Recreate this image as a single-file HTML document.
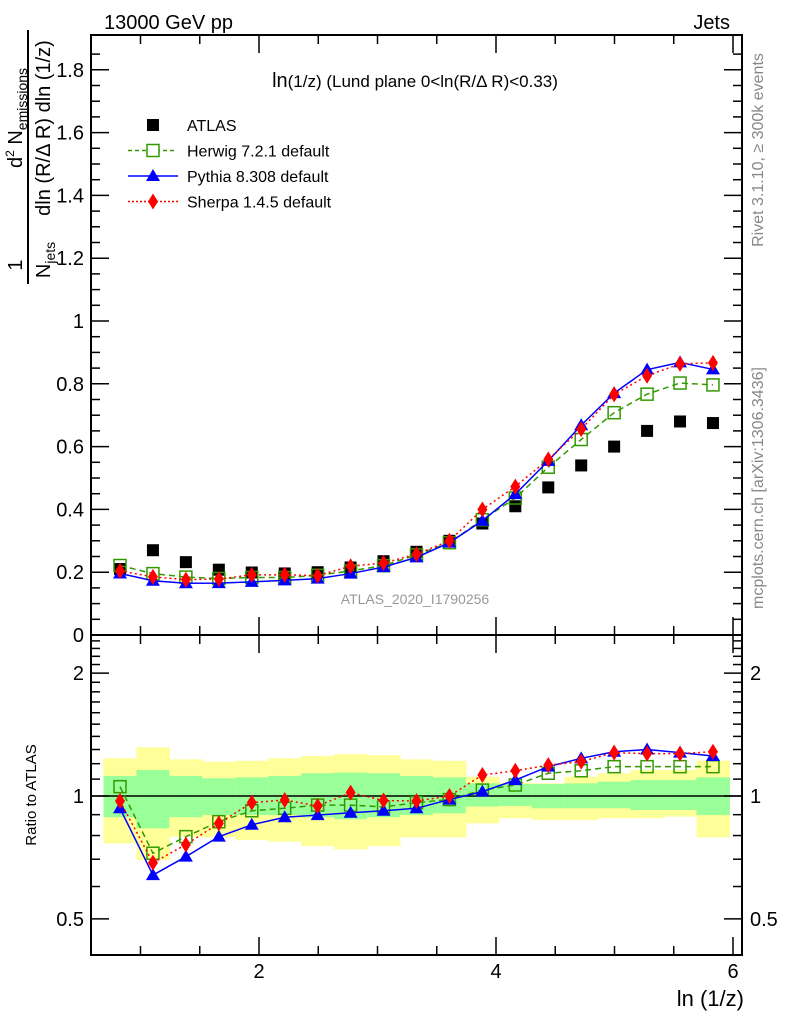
<!DOCTYPE html>
<html><head><meta charset="utf-8"><style>
body{margin:0;background:#fff}
svg{display:block;font-family:"Liberation Sans",sans-serif}
</style></head><body>
<svg id="c" width="786" height="1024" xmlns="http://www.w3.org/2000/svg"></svg>
<script>
const xVals=[0.827,1.105,1.383,1.661,1.939,2.217,2.495,2.773,3.051,3.329,3.607,3.885,4.163,4.441,4.719,4.997,5.275,5.553,5.831];
const atlas=[0.21,0.27,0.232,0.208,0.199,0.196,0.2,0.215,0.235,0.265,0.3,0.355,0.41,0.47,0.54,0.6,0.65,0.68,0.675];
const herwigRatio=[1.054,0.724,0.795,0.865,0.92,0.933,0.95,0.95,0.94,0.963,0.98,1.034,1.064,1.137,1.153,1.18,1.18,1.18,1.18];
const pythiaRatio=[0.933,0.64,0.71,0.795,0.85,0.887,0.898,0.91,0.92,0.933,0.98,1.025,1.094,1.18,1.237,1.284,1.30,1.277,1.253];
const sherpaRatio=[0.972,0.686,0.76,0.857,0.963,0.978,0.945,1.019,0.975,0.972,1.0,1.126,1.153,1.19,1.214,1.277,1.27,1.27,1.284];
const yellowHi=[1.237,1.316,1.23,1.214,1.22,1.237,1.253,1.267,1.26,1.23,1.22,1.115,1.078,1.074,1.115,1.137,1.158,1.158,1.22];
const yellowLo=[0.765,0.697,0.795,0.792,0.78,0.773,0.754,0.74,0.754,0.792,0.792,0.857,0.882,0.873,0.873,0.882,0.882,0.89,0.792];
const greenHi=[1.12,1.158,1.12,1.105,1.111,1.12,1.137,1.141,1.137,1.12,1.111,1.074,1.07,1.07,1.074,1.084,1.094,1.094,1.111];
const greenLo=[0.887,0.833,0.887,0.898,0.898,0.898,0.887,0.877,0.887,0.898,0.907,0.942,0.945,0.933,0.933,0.933,0.924,0.924,0.898];
const mainTicks=["0","0.2","0.4","0.6","0.8","1","1.2","1.4","1.6","1.8"];
const ratioTicks=["0.5","1","2"];
const xTicks=["2","4","6"];

const svg=document.getElementById('c');
const NS='http://www.w3.org/2000/svg';
function el(t,a,p){const e=document.createElementNS(NS,t);for(const k in a)e.setAttribute(k,a[k]);(p||svg).appendChild(e);return e;}
const L=91,R=742,T=35,MB=635,RB=955;
const sx=v=>22+118.5*v;
const sy=v=>MB-314*v;
const ry=v=>796-408*Math.log10(v);
const half=16.5;
const herwig=herwigRatio.map((r,i)=>r*atlas[i]);
const pythia=pythiaRatio.map((r,i)=>r*atlas[i]);
const sherpa=sherpaRatio.map((r,i)=>r*atlas[i]);

const bands=el('g',{});


xVals.forEach((x,i)=>{
  const a=el('rect',{x:sx(x)-half,y:ry(yellowHi[i]),width:2*half+0.5,height:ry(yellowLo[i])-ry(yellowHi[i]),fill:'#ffff99'},bands);
  
  
  const b=el('rect',{x:sx(x)-half,y:ry(greenHi[i]),width:2*half+0.5,height:ry(greenLo[i])-ry(greenHi[i]),fill:'#99ff99'},bands);
  
  
});
el('line',{x1:L,x2:R,y1:ry(1),y2:ry(1),stroke:'#000','stroke-width':1.5});

el('rect',{x:L,y:T,width:R-L,height:MB-T,fill:'none',stroke:'#000','stroke-width':2});
el('rect',{x:L,y:MB,width:R-L,height:RB-MB,fill:'none',stroke:'#000','stroke-width':2});

for(let v=1;v<=6.01;v+=0.5){
  const X=sx(v),maj=Math.abs(v-Math.round(v/2)*2)<0.01;
  const len=maj?18:9;
  [[T,1],[MB,-1],[MB,1],[RB,-1]].forEach(([y0,d])=>el('line',{x1:X,x2:X,y1:y0,y2:y0+d*len,stroke:'#000','stroke-width':1.5}));
}
xTicks.forEach(t=>{const e=el('text',{x:sx(+t),y:978,'font-size':20,'text-anchor':'middle'});e.textContent=t;
});
for(let i=0;i<=37;i++){const v=i*0.05,Y=sy(v);if(Y<T)break;const len=i%4==0?18:9;
 el('line',{x1:L,x2:L+len,y1:Y,y2:Y,stroke:'#000','stroke-width':1.5});
 el('line',{x1:R,x2:R-len,y1:Y,y2:Y,stroke:'#000','stroke-width':1.5});}
mainTicks.forEach(t=>{const e=el('text',{x:84,y:sy(+t)+7,'font-size':20,'text-anchor':'end'});e.textContent=t;
});
for(let i=5;i<=24;i++){const v=i/10,Y=ry(v);if(Y<MB)break;const len=(i==5||i==10||i==20)?18:9;
 el('line',{x1:L,x2:L+len,y1:Y,y2:Y,stroke:'#000','stroke-width':1.5});
 el('line',{x1:R,x2:R-len,y1:Y,y2:Y,stroke:'#000','stroke-width':1.5});}
ratioTicks.forEach(t=>{[[84,'end'],[750,'start']].forEach(([x,a])=>{const e=el('text',{x:x,y:ry(+t)+7,'font-size':20,'text-anchor':a});e.textContent=t;
});});

function square(g,x,y,fill,stroke){return el('rect',{x:x-6,y:y-6,width:12,height:12,fill:fill,stroke:stroke,'stroke-width':stroke=='none'?0:1.5},g);}
function tri(g,x,y){return el('polygon',{points:`${x},${y-7} ${x-7},${y+5} ${x+7},${y+5}`,fill:'#0000ff'},g);}
function dia(g,x,y){return el('polygon',{points:`${x},${y-8} ${x-5},${y} ${x},${y+8} ${x+5},${y}`,fill:'#ff0000'},g);}
function series(name,vals,ys,color,dash,mk){
  const g=el('g',{});
  
  
  el('polyline',{points:xVals.map((x,i)=>sx(x)+','+ys(vals[i])).join(' '),fill:'none',stroke:color,'stroke-width':1.5,'stroke-dasharray':dash},g);
  xVals.forEach((x,i)=>mk(g,sx(x),ys(vals[i])));
}
const atl=el('g',{});


xVals.forEach((x,i)=>square(atl,sx(x),sy(atlas[i]),'#000','none'));
series('herwig-main',herwig,sy,'#339900','6,4',(g,x,y)=>square(g,x,y,'none','#339900'));
series('pythia-main',pythia,sy,'#0000ff','none',tri);
series('sherpa-main',sherpa,sy,'#ff0000','2,3',dia);
series('herwig-ratio',herwigRatio,ry,'#339900','6,4',(g,x,y)=>square(g,x,y,'none','#339900'));
series('pythia-ratio',pythiaRatio,ry,'#0000ff','none',tri);
series('sherpa-ratio',sherpaRatio,ry,'#ff0000','2,3',dia);

const lg=el('g',{});


const leg=[['ATLAS',null],['Herwig 7.2.1 default','h'],['Pythia 8.308 default','p'],['Sherpa 1.4.5 default','s']];
leg.forEach(([t,k],i)=>{const y=125+i*25.5;
 if(k==null)square(lg,153,y,'#000','none');
 if(k=='h'){el('line',{x1:128,x2:176,y1:y,y2:y,stroke:'#339900','stroke-width':1.5,'stroke-dasharray':'4,3'},lg);square(lg,153,y,'#fff','#339900');}
 if(k=='p'){el('line',{x1:128,x2:178,y1:y,y2:y,stroke:'#0000ff','stroke-width':1.5},lg);tri(lg,153,y);}
 if(k=='s'){el('line',{x1:128,x2:178,y1:y,y2:y,stroke:'#ff0000','stroke-width':1.5,'stroke-dasharray':'2,2'},lg);dia(lg,153,y);}
 const e=el('text',{x:187,y:y+6,'font-size':16},lg);e.textContent=t;
 });

function txt(s,a,name){const e=el('text',a);e.textContent=s;return e;}
txt('13000 GeV pp',{x:104,y:29,'font-size':20},'energy-label');
txt('Jets',{x:730,y:29,'font-size':20,'text-anchor':'end'},'process-label');
const tt=txt('',{x:415,y:87,'font-size':17,'text-anchor':'middle'},'plot-title');
tt.innerHTML='<tspan font-size="20">ln</tspan>(1/z) (Lund plane 0&lt;ln(R/Δ R)&lt;0.33)';
txt('ATLAS_2020_I1790256',{x:415,y:604,'font-size':14,fill:'#999','text-anchor':'middle'},'analysis-id');
txt('Rivet 3.1.10, ≥ 300k events',{x:0,y:0,'font-size':16,fill:'#888','text-anchor':'middle',transform:'translate(763,150) rotate(-90)'},'rivet-label');
txt('mcplots.cern.ch [arXiv:1306.3436]',{x:0,y:0,'font-size':16,fill:'#888','text-anchor':'middle',transform:'translate(763,488) rotate(-90)'},'mcplots-label');
txt('ln (1/z)',{x:744,y:1006,'font-size':22,'text-anchor':'end'},'x-axis-title');
txt('Ratio to ATLAS',{x:0,y:0,'font-size':15,'text-anchor':'middle',transform:'translate(36,795) rotate(-90)'},'ratio-y-axis-title');
const yt=el('g',{});


el('line',{x1:28,x2:28,y1:30,y2:284,stroke:'#000','stroke-width':2},yt);
const n1=el('text',{x:0,y:0,'font-size':20,'text-anchor':'middle',transform:'translate(22,265) rotate(-90)'},yt);n1.textContent='1';
const n2=el('text',{x:0,y:0,'font-size':20,'text-anchor':'middle',transform:'translate(22,118) rotate(-90)'},yt);
n2.innerHTML='d<tspan font-size="12" dy="-8">2</tspan><tspan dy="8"> N</tspan><tspan font-size="14" dy="5">emissions</tspan>';
const d1=el('text',{x:0,y:0,'font-size':20,'text-anchor':'middle',transform:'translate(50,260) rotate(-90)'},yt);
d1.innerHTML='N<tspan font-size="14" dy="5">jets</tspan>';
const d2=el('text',{x:0,y:0,'font-size':20,'text-anchor':'middle',transform:'translate(50,128) rotate(-90)'},yt);
d2.textContent='dln (R/Δ R) dln (1/z)';
</script>
</body></html>
